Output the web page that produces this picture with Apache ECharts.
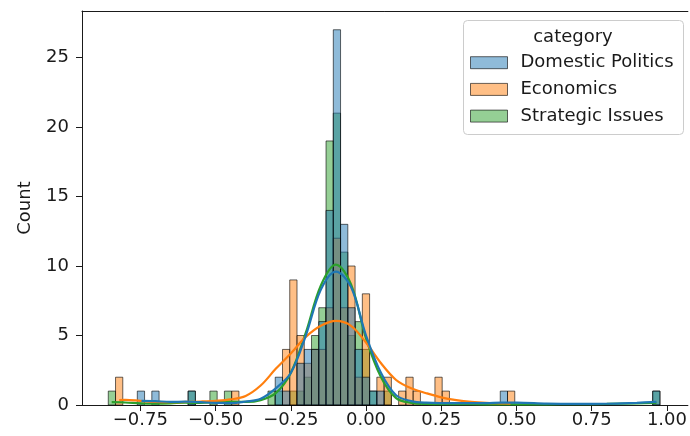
<!DOCTYPE html>
<html>
<head>
<meta charset="utf-8">
<script src="https://cdn.jsdelivr.net/npm/echarts@6.0.0/dist/echarts.min.js"></script>
<style>
  html, body { margin: 0; padding: 0; background: #fff; }
  #chart { width: 690px; height: 436px; }
</style>
</head>
<body>
<div id="chart"></div>
<script>
// histogram bins (shared by all categories)
var binStart = -0.8564;
var binWidth = 0.02412;

// counts per bin, 76 bins
var countsDomestic = [0,0,0,0,1,0,1,0,0,0, 0,1,0,0,0,0,0,0,0,0, 0,0,0,2,1,0,3,4,4,6, 14,27,13,7,4,2,1,1,0,0, 0,0,0,0,0,0,0,0,0,0, 0,0,0,0,1,0,0,0,0,0, 0,0,0,0,0,0,0,0,0,0, 0,0,0,0,0,1];
var countsEconomics = [0,2,0,0,0,0,0,0,0,0, 0,0,0,0,0,0,0,1,0,0, 0,0,0,0,4,9,5,3,4,4, 7,12,7,10,2,8,0,2,2,0, 1,2,1,0,0,2,1,0,0,0, 0,0,0,0,0,1,0,0,0,0, 0,0,0,0,0,0,0,0,0,0, 0,0,0,0,0,0];
var countsStrategic = [1,0,0,0,0,0,0,0,0,0, 0,1,0,0,1,0,1,0,0,0, 0,0,1,1,0,1,1,2,5,7, 19,21,11,5,6,4,1,0,1,0, 0,0,0,0,0,0,0,0,0,0, 0,0,0,0,0,0,0,0,0,0, 0,0,0,0,0,0,0,0,0,0, 0,0,0,0,0,1];

// kde curves
var kdeDomesticX = [-0.746, -0.7, -0.65, -0.6, -0.55, -0.5, -0.45, -0.4, -0.35, -0.3, -0.25, -0.2, -0.15, -0.1, -0.05, 0.0, 0.05, 0.1, 0.15, 0.2, 0.3, 0.4, 0.45, 0.5, 0.6, 0.7, 0.8, 0.9, 0.965];
var kdeDomesticY = [0.3, 0.28, 0.22, 0.24, 0.2, 0.15, 0.14, 0.25, 0.45, 1.2, 2.3, 5.0, 8.3, 9.6, 8.5, 5.0, 2.3, 0.7, 0.28, 0.17, 0.13, 0.14, 0.17, 0.17, 0.1, 0.08, 0.09, 0.16, 0.22];
var kdeEconomicsX = [-0.82, -0.8, -0.75, -0.7, -0.65, -0.6, -0.55, -0.5, -0.45, -0.4, -0.35, -0.3, -0.25, -0.2, -0.15, -0.1, -0.05, 0.0, 0.05, 0.1, 0.15, 0.2, 0.25, 0.3, 0.35, 0.4, 0.45, 0.48];
var kdeEconomicsY = [0.36, 0.37, 0.3, 0.22, 0.2, 0.22, 0.25, 0.3, 0.4, 0.65, 1.4, 2.6, 3.7, 4.9, 5.7, 6.05, 5.7, 4.5, 3.0, 1.8, 1.2, 0.85, 0.55, 0.35, 0.22, 0.15, 0.12, 0.1];
var kdeStrategicX = [-0.845, -0.8, -0.75, -0.7, -0.65, -0.6, -0.55, -0.5, -0.45, -0.4, -0.35, -0.3, -0.25, -0.2, -0.15, -0.1, -0.05, 0.0, 0.05, 0.1, 0.15, 0.2, 0.3, 0.4, 0.5, 0.6, 0.7, 0.8, 0.9, 0.965];
var kdeStrategicY = [0.2, 0.18, 0.12, 0.1, 0.12, 0.17, 0.15, 0.2, 0.25, 0.22, 0.35, 0.85, 2.3, 5.2, 8.6, 10.1, 8.7, 4.8, 2.0, 0.5, 0.15, 0.08, 0.06, 0.05, 0.05, 0.05, 0.06, 0.08, 0.12, 0.16];

var xTicks = [-0.75, -0.5, -0.25, 0, 0.25, 0.5, 0.75, 1.0];
var xTickLabels = ['−0.75', '−0.50', '−0.25', '0.00', '0.25', '0.50', '0.75', '1.00'];
var yTicks = [0, 5, 10, 15, 20, 25];

var names = ['Domestic Politics', 'Economics', 'Strategic Issues'];
var fills = ['rgba(31,119,180,0.5)', 'rgba(255,127,14,0.5)', 'rgba(44,160,44,0.5)'];
var lineColors = ['#1f77b4', '#ff7f0e', '#2ca02c'];
var edge = 'rgba(0,0,0,0.6)';
var font = 'DejaVu Sans';
var ink = '#1a1a1a';

function binData(counts) {
    var out = [];
    for (var i = 0; i < counts.length; i++) {
        if (counts[i] > 0) {
            out.push([binStart + i * binWidth, binStart + (i + 1) * binWidth, counts[i]]);
        }
    }
    return out;
}

function pairs(xs, ys) {
    var out = [];
    for (var i = 0; i < xs.length; i++) out.push([xs[i], ys[i]]);
    return out;
}

function histSeries(idx, counts) {
    return {
        name: names[idx],
        type: 'custom',
        z: 2,
        itemStyle: {color: fills[idx], borderColor: edge, borderWidth: 1},
        encode: {x: [0, 1], y: 2},
        data: binData(counts),
        renderItem: function (params, api) {
            var p0 = api.coord([api.value(0), 0]);
            var p1 = api.coord([api.value(1), api.value(2)]);
            return {
                type: 'rect',
                shape: {x: p0[0], y: p1[1], width: p1[0] - p0[0], height: p0[1] - p1[1]},
                style: {fill: fills[idx], stroke: edge, lineWidth: 1}
            };
        }
    };
}

function kdeSeries(idx, xs, ys) {
    return {
        name: names[idx] + ' kde',
        type: 'line',
        z: 3,
        smooth: 0.35,
        showSymbol: false,
        silent: true,
        lineStyle: {color: lineColors[idx], width: 2.2},
        data: pairs(xs, ys)
    };
}

var myChart = echarts.init(document.getElementById('chart'));
var option = {
    animation: false,
    backgroundColor: '#fff',
    grid: {left: 82, top: 11, width: 611, height: 394},
    xAxis: [{
        type: 'value',
        min: -0.9437,
        max: 1.0695,
        axisLine: {show: true, onZero: false, lineStyle: {color: ink}},
        axisTick: {show: true, length: 6, customValues: xTicks, lineStyle: {color: ink}},
        axisLabel: {
            customValues: xTicks, margin: 6, color: ink, fontFamily: font, fontSize: 18,
            formatter: function (v) {
                for (var i = 0; i < xTicks.length; i++) {
                    if (Math.abs(xTicks[i] - v) < 1e-6) return xTickLabels[i];
                }
                return '';
            }
        },
        splitLine: {show: false}
    }, {
        // top spine
        type: 'value',
        position: 'top',
        min: -0.9437,
        max: 1.0695,
        axisLine: {show: true, onZero: false, lineStyle: {color: ink}},
        axisTick: {show: false},
        axisLabel: {show: false},
        splitLine: {show: false}
    }],
    yAxis: {
        type: 'value',
        min: 0,
        max: 28.35,
        name: 'Count',
        nameLocation: 'middle',
        nameGap: 48,
        nameTextStyle: {color: ink, fontFamily: font, fontSize: 18},
        axisLine: {show: true, onZero: false, lineStyle: {color: ink}},
        axisTick: {show: true, length: 6, customValues: yTicks, lineStyle: {color: ink}},
        axisLabel: {customValues: yTicks, margin: 13, color: ink, fontFamily: font, fontSize: 18},
        splitLine: {show: false}
    },
    legend: {
        orient: 'vertical',
        left: 470,
        top: 52.7,
        padding: 0,
        itemWidth: 37,
        itemHeight: 12,
        itemGap: 6.7,
        icon: 'rect',
        z: 5,
        textStyle: {color: ink, fontFamily: font, fontSize: 18, lineHeight: 20, padding: [0, 0, 0, 8]},
        data: [
            {name: names[0], itemStyle: {color: fills[0], borderColor: edge, borderWidth: 1}},
            {name: names[1], itemStyle: {color: fills[1], borderColor: edge, borderWidth: 1}},
            {name: names[2], itemStyle: {color: fills[2], borderColor: edge, borderWidth: 1}}
        ]
    },
    graphic: [
        {
            type: 'rect', z: 4, left: 463, top: 20,
            shape: {width: 220, height: 114, r: 4},
            style: {fill: 'rgba(255,255,255,0.8)', stroke: '#cccccc', lineWidth: 1}
        },
        {
            type: 'text', z: 5, x: 573, y: 37,
            style: {text: 'category', fill: ink, font: '18px "DejaVu Sans"', textAlign: 'center', textVerticalAlign: 'middle'}
        }
    ],
    series: [
        histSeries(2, countsStrategic),
        histSeries(1, countsEconomics),
        histSeries(0, countsDomestic),
        kdeSeries(2, kdeStrategicX, kdeStrategicY),
        kdeSeries(1, kdeEconomicsX, kdeEconomicsY),
        kdeSeries(0, kdeDomesticX, kdeDomesticY)
    ]
};
myChart.setOption(option);
</script>
</body>
</html>
